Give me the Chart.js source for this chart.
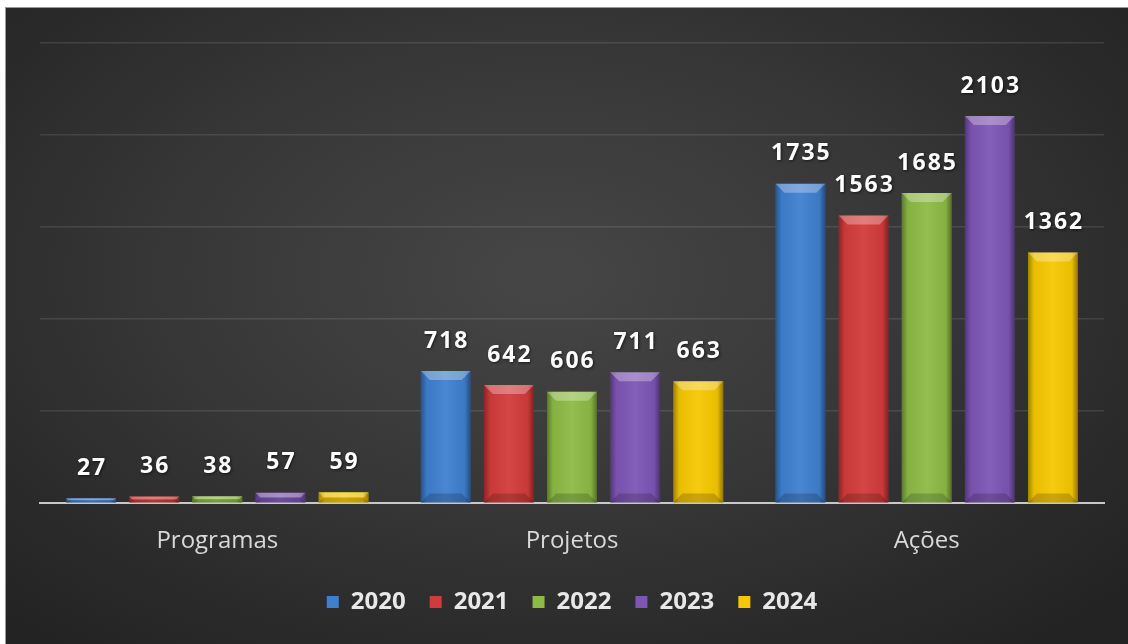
<!DOCTYPE html>
<html>
<head>
<meta charset="utf-8">
<script src="https://cdn.jsdelivr.net/npm/chart.js@4.4.0/dist/chart.umd.min.js"></script>
<style>
  html, body { margin: 0; padding: 0; background: #fff; }
  #wrap {
    position: absolute; left: 5px; top: 7px; width: 1123px; height: 637px;
    background: radial-gradient(ellipse 70% 75% at 48% 42%, #464646 0%, #383838 45%, #2a2a2a 80%, #232323 100%);
    border-top: 1px solid #9a9a9a; border-left: 1px solid #9a9a9a; box-sizing: border-box;
  }
</style>
</head>
<body>
<div id="wrap"><canvas id="chart"></canvas></div>
<script>
const categories = ["Programas", "Projetos", "Ações"];
const years = ["2020", "2021", "2022", "2023", "2024"];
const values2020 = [27, 718, 1735];
const values2021 = [36, 642, 1563];
const values2022 = [38, 606, 1685];
const values2023 = [57, 711, 2103];
const values2024 = [59, 663, 1362];
const yTicks = [0, 500, 1000, 1500, 2000, 2500];

const colors = ["#3f7fd0", "#d23b3b", "#8dbb45", "#7d55b4", "#f6c800"];
const seriesValues = [values2020, values2021, values2022, values2023, values2024];

// bevel look on each bar, drawn over the library's own bar rectangles
const bevelPlugin = {
  id: "bevel",
  afterDatasetsDraw(chart) {
    const ctx = chart.ctx;
    chart.data.datasets.forEach((ds, i) => {
      chart.getDatasetMeta(i).data.forEach(bar => {
        const { x, y, width, base } = bar.getProps(["x", "y", "width", "base"], true);
        const left = x - width / 2, right = x + width / 2;
        const h = base - y;
        if (h <= 0) return;
        const b = Math.min(9, h / 2);
        ctx.save();
        const g = ctx.createLinearGradient(left, 0, right, 0);
        g.addColorStop(0, "rgba(0,0,0,0.35)");
        g.addColorStop(0.12, "rgba(0,0,0,0.05)");
        g.addColorStop(0.5, "rgba(255,255,255,0.06)");
        g.addColorStop(0.88, "rgba(0,0,0,0.05)");
        g.addColorStop(1, "rgba(0,0,0,0.4)");
        ctx.fillStyle = g;
        ctx.fillRect(left, y, width, h);
        // top bevel
        ctx.beginPath();
        ctx.moveTo(left, y);
        ctx.lineTo(right, y);
        ctx.lineTo(right - b, y + b);
        ctx.lineTo(left + b, y + b);
        ctx.closePath();
        ctx.fillStyle = "rgba(255,255,255,0.3)";
        ctx.fill();
        // bottom bevel
        ctx.beginPath();
        ctx.moveTo(left, base);
        ctx.lineTo(right, base);
        ctx.lineTo(right - b, base - b);
        ctx.lineTo(left + b, base - b);
        ctx.closePath();
        ctx.fillStyle = "rgba(0,0,0,0.18)";
        ctx.fill();
        ctx.restore();
      });
    });
  }
};

// value labels above the bars
const valueLabels = {
  id: "valueLabels",
  afterDatasetsDraw(chart) {
    const ctx = chart.ctx;
    ctx.save();
    ctx.font = "bold 23px 'Open Sans'";
    ctx.letterSpacing = "2px";
    ctx.fillStyle = "#ffffff";
    ctx.textAlign = "center";
    ctx.textBaseline = "middle";
    ctx.shadowColor = "rgba(0,0,0,0.6)";
    ctx.shadowBlur = 3;
    ctx.shadowOffsetX = 1;
    ctx.shadowOffsetY = 1;
    chart.data.datasets.forEach((ds, i) => {
      chart.getDatasetMeta(i).data.forEach((bar, j) => {
        ctx.fillText(ds.data[j], bar.x + 1, bar.y - 30);
      });
    });
    ctx.restore();
  }
};

new Chart(document.getElementById("chart"), {
  type: "bar",
  data: {
    labels: categories,
    datasets: years.map((yr, i) => ({
      label: yr,
      data: seriesValues[i],
      backgroundColor: colors[i],
      borderWidth: 0,
      categoryPercentage: 0.89,
      barPercentage: 0.79
    }))
  },
  options: {
    responsive: true,
    maintainAspectRatio: false,
    animation: false,
    layout: { padding: { left: 34, right: 24, top: 35, bottom: 20 } },
    plugins: {
      legend: {
        position: "bottom",
        labels: {
          color: "#e8e8e8",
          font: { family: "'Open Sans'", size: 24, weight: "bold" },
          boxWidth: 12,
          boxHeight: 12,
          padding: 24
        }
      },
      tooltip: { enabled: false }
    },
    scales: {
      x: {
        grid: { display: false, drawTicks: false },
        border: { color: "#c8c8c8", width: 2 },
        afterFit: scale => { scale.height -= 14; },
        ticks: {
          color: "#d9d9d9",
          padding: 24,
          font: { family: "'Open Sans'", size: 24 }
        }
      },
      y: {
        min: 0,
        max: 2500,
        afterBuildTicks: axis => { axis.ticks = yTicks.map(v => ({ value: v })); },
        ticks: { display: false },
        grid: { color: "rgba(255,255,255,0.11)", lineWidth: 1.5, drawTicks: false },
        border: { display: false }
      }
    }
  },
  plugins: [bevelPlugin, valueLabels]
});
</script>
</body>
</html>
